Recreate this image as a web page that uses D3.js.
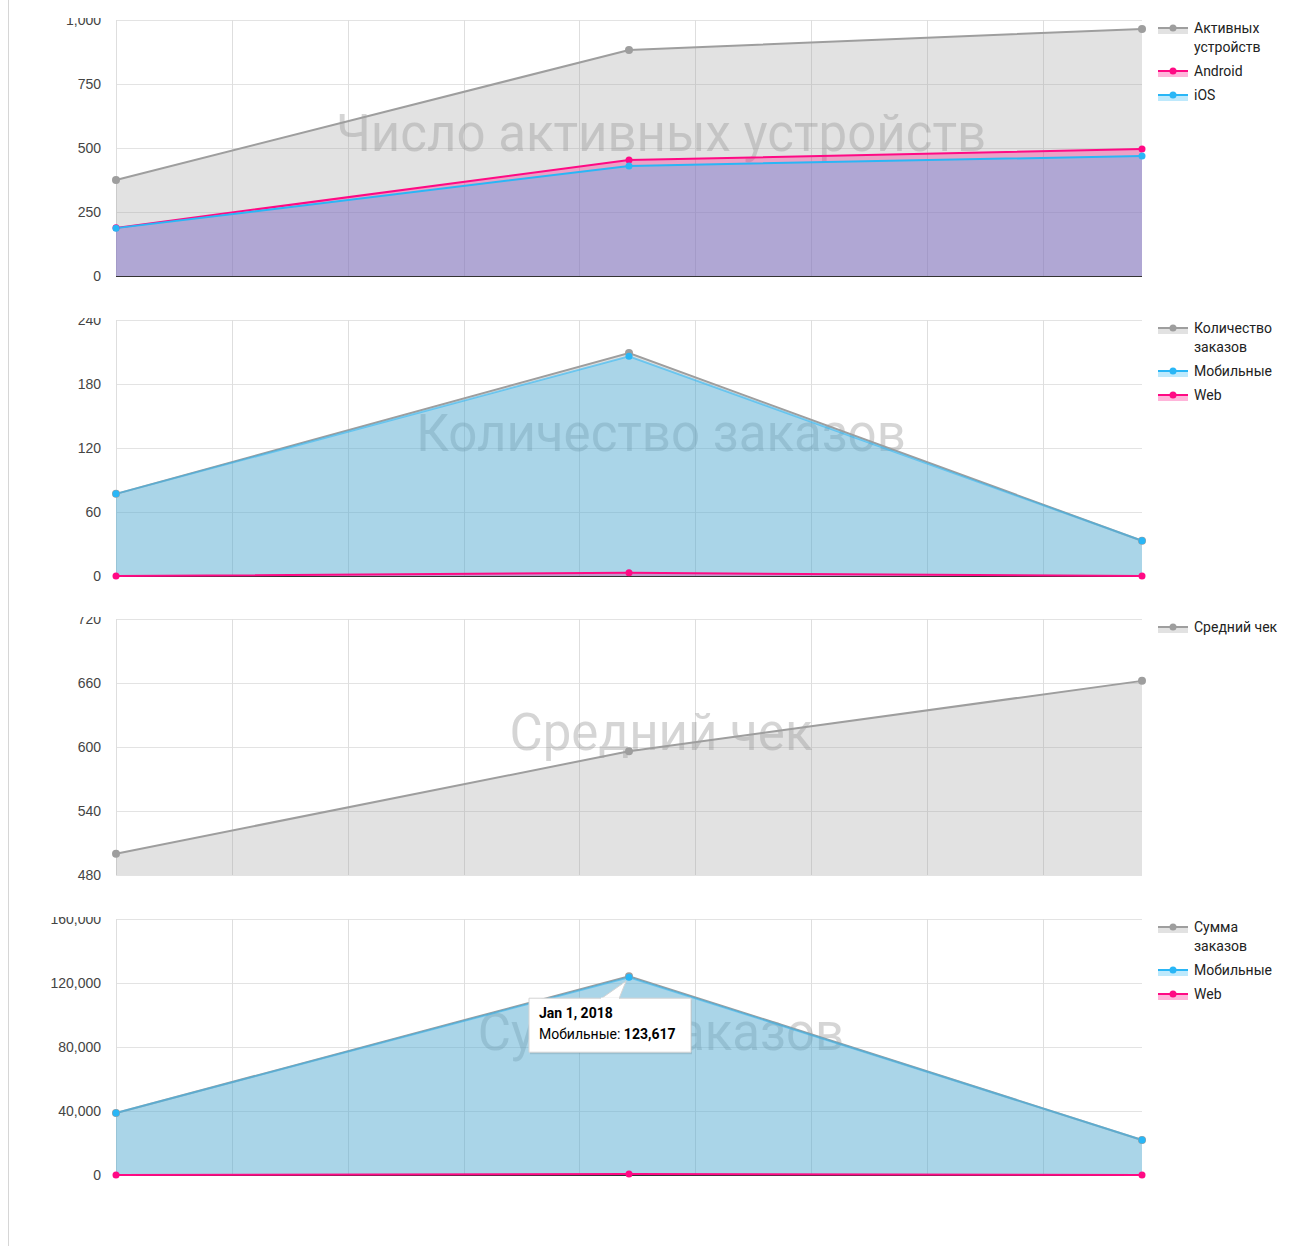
<html>
<head>
<meta charset="utf-8">
<title>dashboard</title>
<script src="https://d3js.org/d3.v7.min.js"></script>
<style type="text/css">
    body { margin: 0; background: #fff; font-family: Roboto, "Noto Sans", sans-serif; }
    .tick text { font-size: 14px; fill: #444; }
    .legend text { font-size: 14px; fill: #222; }
    .watermark { font-size: 51px; fill: #888; fill-opacity: 0.35; }
</style>
</head>
<body>
<script>
    // x axis points (monthly)
    const dates = ["2017-12-01", "2018-01-01", "2018-02-01"]

    // Число активных устройств
    const activeDevices = [375, 883, 965]
    const android = [188, 453, 496]
    const ios = [187, 430, 469]

    // Количество заказов
    const ordersTotal = [77, 209, 33]
    const ordersMobile = [77, 206, 33]
    const ordersWeb = [0, 3, 0]

    // Средний чек
    const avgCheck = [500, 596, 662]

    // Сумма заказов
    const sumTotal = [38750, 124267, 21875]
    const sumMobile = [38750, 123617, 21875]
    const sumWeb = [0, 650, 0]

    const ticks1 = [0, 250, 500, 750, 1000]
    const ticks2 = [0, 60, 120, 180, 240]
    const ticks3 = [480, 540, 600, 660, 720]
    const ticks4 = [0, 40000, 80000, 120000, 160000]

    const GRAY = "#9e9e9e", PINK = "#ff0a84", BLUE = "#29b6f6"

    const panels = [
        { title: "Число активных устройств", ticks: ticks1, series: [
            { name: "Активных устройств", color: GRAY, values: activeDevices, r: 4 },
            { name: "Android", color: PINK, values: android, r: 3.5 },
            { name: "iOS", color: BLUE, values: ios, r: 3.5 }] },
        { title: "Количество заказов", ticks: ticks2, series: [
            { name: "Количество заказов", color: GRAY, values: ordersTotal, r: 4 },
            { name: "Мобильные", color: BLUE, values: ordersMobile, r: 3.5, lineOpacity: 0.55 },
            { name: "Web", color: PINK, values: ordersWeb, r: 3.5 }] },
        { title: "Средний чек", ticks: ticks3, series: [
            { name: "Средний чек", color: GRAY, values: avgCheck, r: 4 }] },
        { title: "Сумма заказов", ticks: ticks4, series: [
            { name: "Сумма заказов", color: GRAY, values: sumTotal, r: 4 },
            { name: "Мобильные", color: BLUE, values: sumMobile, r: 3.5, lineOpacity: 0.55 },
            { name: "Web", color: PINK, values: sumWeb, r: 3.5 }] }
    ]

    const W = 1296, H = 1246
    const left = 116, right = 1142, plotH = 256, panelStep = 299.7, firstTop = 20

    const svg = d3.select("body").append("svg").attr("width", W).attr("height", H)

    // page border on the left
    svg.append("line").attr("x1", 8.5).attr("x2", 8.5).attr("y1", 0).attr("y2", H)
        .attr("stroke", "#d6d6d6")

    const parsed = dates.map(d => new Date(d + "T00:00:00Z"))
    const x = d3.scaleUtc().domain(d3.extent(parsed)).range([left, right])
    const weekLines = d3.utcDay.range(parsed[0], parsed[2]).filter((d, i) => i % 7 === 0)

    panels.forEach((p, pi) => {
        const top = Math.round(firstTop + pi * panelStep)
        const y = d3.scaleLinear().domain(d3.extent(p.ticks)).range([top + plotH, top])
        const base = d3.min(p.ticks)

        svg.append("clipPath").attr("id", "clip" + pi)
            .append("rect").attr("x", 0).attr("y", top - 2).attr("width", W).attr("height", plotH + 40)

        const g = svg.append("g").attr("clip-path", `url(#clip${pi})`)

        // grid
        g.append("g").selectAll("line").data(p.ticks).join("line")
            .attr("x1", left).attr("x2", right)
            .attr("y1", d => Math.round(y(d)) + 0.5).attr("y2", d => Math.round(y(d)) + 0.5)
            .attr("stroke", "#e3e3e3")
        g.append("g").selectAll("line").data(weekLines).join("line")
            .attr("x1", d => Math.round(x(d)) + 0.5).attr("x2", d => Math.round(x(d)) + 0.5)
            .attr("y1", top).attr("y2", top + plotH)
            .attr("stroke", "#dedede")

        // y axis labels
        g.append("g").attr("transform", `translate(${left - 10},0)`)
            .call(d3.axisLeft(y).tickValues(p.ticks).tickFormat(d3.format(",")).tickSize(0).tickPadding(5))
            .call(a => a.select(".domain").remove())

        if (base === 0) {
            g.append("line").attr("x1", left).attr("x2", right)
                .attr("y1", y(0) + 0.5).attr("y2", y(0) + 0.5).attr("stroke", "#333")
        }

        // watermark title
        g.append("text").attr("class", "watermark").attr("x", 661).attr("y", top + 131)
            .attr("text-anchor", "middle").text(p.title)

        const area = d3.area().x((d, i) => x(parsed[i])).y0(y(base)).y1(d => y(d))
        const line = d3.line().x((d, i) => x(parsed[i])).y(d => y(d))

        p.series.forEach(s => {
            g.append("path").attr("d", area(s.values)).attr("fill", s.color).attr("fill-opacity", 0.3)
        })
        p.series.forEach(s => {
            g.append("path").attr("d", line(s.values)).attr("fill", "none")
                .attr("stroke", s.color).attr("stroke-width", 2)
                .attr("stroke-opacity", s.lineOpacity || 1)
        })
        p.series.forEach(s => {
            g.append("g").selectAll("circle").data(s.values).join("circle")
                .attr("cx", (d, i) => x(parsed[i])).attr("cy", d => y(d))
                .attr("r", s.r).attr("fill", s.color)
        })

        // legend
        const lg = svg.append("g").attr("class", "legend")
        let ly = top + 8
        p.series.forEach(s => {
            const item = lg.append("g").attr("transform", `translate(0,${ly})`)
            item.append("rect").attr("x", 1158).attr("y", -1).attr("width", 30).attr("height", 7)
                .attr("fill", s.color).attr("fill-opacity", 0.3)
            item.append("line").attr("x1", 1158).attr("x2", 1188).attr("y1", 0).attr("y2", 0)
                .attr("stroke", s.color).attr("stroke-width", 2)
            item.append("circle").attr("cx", 1173).attr("cy", 0).attr("r", 3.5).attr("fill", s.color)
            const t = item.append("text").attr("x", 1194).attr("y", 5).text(s.name)
            let lines = 1
            if (t.node().getComputedTextLength() > 95 && s.name.includes(" ")) {
                const words = s.name.split(" ")
                t.text(null)
                words.forEach((w, wi) => {
                    t.append("tspan").attr("x", 1194).attr("dy", wi ? 19 : 0).text(w)
                })
                lines = words.length
            }
            ly += 19 * lines + 5
        })

        // tooltip on the sum chart
        if (pi === 3) {
            const s = p.series[1]
            const px = x(parsed[1]), py = y(s.values[1])
            const bx = px - 100, by = py + 21, bw = 162, bh = 54
            const tip = svg.append("g")
            tip.append("rect").attr("x", bx + 1).attr("y", by + 2).attr("width", bw).attr("height", bh)
                .attr("fill", "#000").attr("fill-opacity", 0.1)
            tip.append("path")
                .attr("d", `M${bx},${by}H${bx + bw}V${by + bh}H${bx}Z M${px - 28},${by + 0.5}L${px - 3},${py + 4}L${px - 10},${by + 0.5}`)
                .attr("fill", "#fff").attr("stroke", "#d4d4d4")
            tip.append("rect").attr("x", px - 28).attr("y", by - 0.5).attr("width", 18).attr("height", 2).attr("fill", "#fff")
            tip.append("text").attr("x", bx + 10).attr("y", by + 20)
                .attr("font-size", 14).attr("font-weight", "bold").attr("fill", "#000")
                .text(d3.utcFormat("%b %-d, %Y")(parsed[1]))
            const t2 = tip.append("text").attr("x", bx + 10).attr("y", by + 41)
                .attr("font-size", 14).attr("fill", "#000")
            t2.append("tspan").text(s.name + ": ")
            t2.append("tspan").attr("font-weight", "bold").text(d3.format(",")(s.values[1]))
        }
    })
</script>
</body>
</html>
